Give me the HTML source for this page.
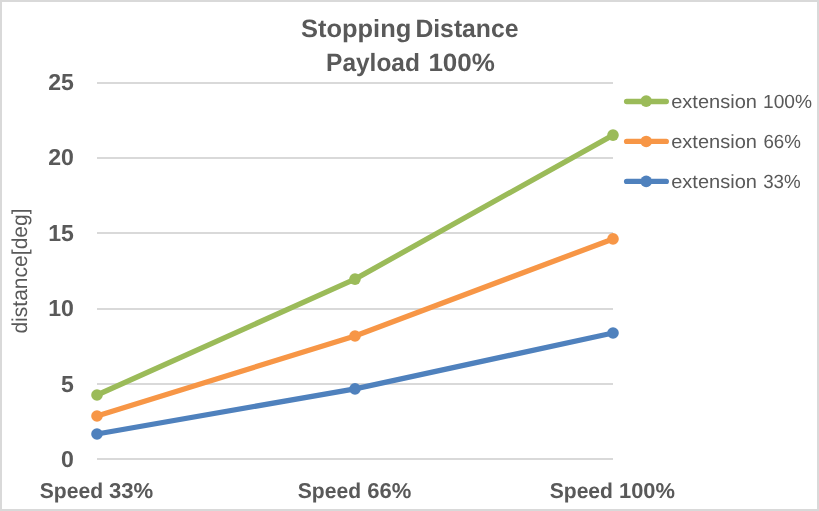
<!DOCTYPE html>
<html>
<head>
<meta charset="utf-8">
<title>Stopping Distance</title>
<style>
  html, body { margin: 0; padding: 0; background: #ffffff; }
  body { width: 819px; height: 511px; overflow: hidden; font-family: "Liberation Sans", sans-serif; }
  svg { display: block; position: absolute; left: 0; top: 0; will-change: transform; }
  text { font-family: "Liberation Sans", sans-serif; fill: #595959; text-rendering: geometricPrecision; }
  .b { font-weight: bold; }
</style>
</head>
<body>
<svg width="819" height="511" viewBox="0 0 819 511">
  <!-- chart frame -->
  <rect x="0" y="0" width="819" height="511" fill="#D9D9D9"/>
  <rect x="2" y="2" width="815" height="507" fill="#FFFFFF"/>

  <!-- gridlines -->
  <g fill="#D9D9D9">
    <rect x="97" y="82" width="516" height="2"/>
    <rect x="97" y="157" width="516" height="2"/>
    <rect x="97" y="232" width="516" height="2"/>
    <rect x="97" y="308" width="516" height="2"/>
    <rect x="97" y="383" width="516" height="2"/>
    <rect x="97" y="458" width="516" height="2"/>
  </g>

  <!-- title -->
  <g class="b" font-size="25">
    <text y="36.7"><tspan x="301.0" textLength="110.3" lengthAdjust="spacingAndGlyphs">Stopping</tspan> <tspan x="415.4" textLength="103.1" lengthAdjust="spacingAndGlyphs">Distance</tspan></text>
    <text y="71.3"><tspan x="326.1" textLength="93.8" lengthAdjust="spacingAndGlyphs">Payload</tspan> <tspan x="428.4" textLength="66.5" lengthAdjust="spacingAndGlyphs">100%</tspan></text>
  </g>

  <!-- y tick labels -->
  <g class="b" font-size="23.1" text-anchor="end">
    <text x="73.9" y="89.7">25</text>
    <text x="73.9" y="164.7">20</text>
    <text x="73.9" y="240.7">15</text>
    <text x="73.9" y="315.7">10</text>
    <text x="73.9" y="391.7">5</text>
    <text x="73.9" y="466.7">0</text>
  </g>

  <!-- x labels -->
  <g class="b" font-size="21.5">
    <text y="498.3"><tspan x="39.8" textLength="63.3" lengthAdjust="spacingAndGlyphs">Speed</tspan> <tspan x="109" textLength="44.3" lengthAdjust="spacingAndGlyphs">33%</tspan></text>
    <text y="498.3"><tspan x="297.8" textLength="63.3" lengthAdjust="spacingAndGlyphs">Speed</tspan> <tspan x="367.2" textLength="44.1" lengthAdjust="spacingAndGlyphs">66%</tspan></text>
    <text y="498.3"><tspan x="549.7" textLength="63.3" lengthAdjust="spacingAndGlyphs">Speed</tspan> <tspan x="619" textLength="56" lengthAdjust="spacingAndGlyphs">100%</tspan></text>
  </g>

  <!-- y axis title -->
  <text transform="translate(27.1 333.6) rotate(-90)" x="0" y="0" font-size="21.5" textLength="125.2" lengthAdjust="spacingAndGlyphs">distance[deg]</text>

  <!-- series -->
  <g fill="none" stroke-width="5.3" stroke-linejoin="round" stroke-linecap="round">
    <polyline stroke="#4F81BD" points="97,434 355,388.85 613,333"/>
    <polyline stroke="#F79646" points="97,416 355,336 613,238.9"/>
    <polyline stroke="#9BBB59" points="97,395 355,279.1 613,135.1"/>
  </g>
  <g>
    <g fill="#4F81BD"><circle cx="97" cy="434" r="5.8"/><circle cx="355" cy="388.85" r="5.8"/><circle cx="613" cy="333" r="5.8"/></g>
    <g fill="#F79646"><circle cx="97" cy="416" r="5.8"/><circle cx="355" cy="336" r="5.8"/><circle cx="613" cy="238.9" r="5.8"/></g>
    <g fill="#9BBB59"><circle cx="97" cy="395" r="5.8"/><circle cx="355" cy="279.1" r="5.8"/><circle cx="613" cy="135.1" r="5.8"/></g>
  </g>

  <!-- legend -->
  <g stroke-width="5.3" stroke-linecap="round">
    <line x1="626.6" y1="101.5" x2="666.3" y2="101.5" stroke="#9BBB59"/>
    <line x1="626.6" y1="141.45" x2="666.3" y2="141.45" stroke="#F79646"/>
    <line x1="626.6" y1="181.4" x2="666.3" y2="181.4" stroke="#4F81BD"/>
  </g>
  <circle cx="646.2" cy="101.15" r="5.8" fill="#9BBB59"/>
  <circle cx="646.2" cy="141.45" r="5.8" fill="#F79646"/>
  <circle cx="646.2" cy="181.4" r="5.8" fill="#4F81BD"/>
  <g font-size="19">
    <text y="107.5"><tspan x="671.2" textLength="85.8" lengthAdjust="spacingAndGlyphs">extension</tspan> <tspan x="763" textLength="49" lengthAdjust="spacingAndGlyphs">100%</tspan></text>
    <text y="147.5"><tspan x="671.2" textLength="85.8" lengthAdjust="spacingAndGlyphs">extension</tspan> <tspan x="763.4" textLength="37.5" lengthAdjust="spacingAndGlyphs">66%</tspan></text>
    <text y="187.5"><tspan x="671.2" textLength="85.8" lengthAdjust="spacingAndGlyphs">extension</tspan> <tspan x="763.2" textLength="37.5" lengthAdjust="spacingAndGlyphs">33%</tspan></text>
  </g>
</svg>
</body>
</html>
